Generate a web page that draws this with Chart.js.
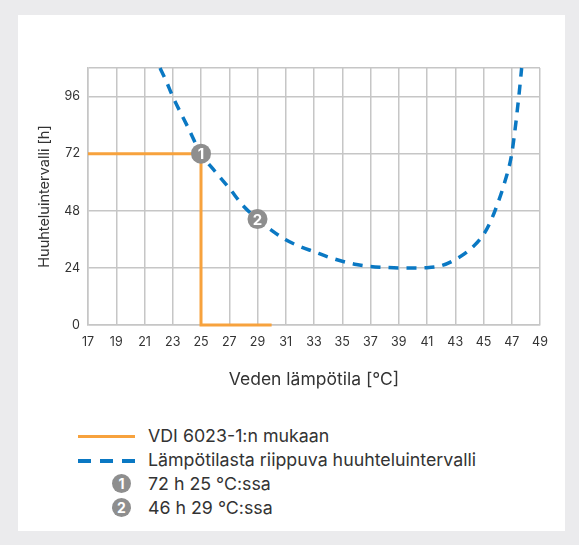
<!DOCTYPE html>
<html>
<head>
<meta charset="utf-8">
<script src="https://cdn.jsdelivr.net/npm/chart.js@4"></script>
<style>
  body { margin: 0; background: #ebebed; width: 579px; height: 545px; overflow: hidden; font-family: Inter, "Noto Sans", sans-serif; }
  #panel { position: absolute; left: 18px; top: 15px; width: 547px; height: 516px; background: #fff; }
  #chartBox { position: absolute; left: 0; top: 0; width: 547px; height: 380px; }
  .legRow { position: absolute; left: 0; height: 24px; line-height: 24px; font-size: 17.8px; color: #333; }
  .legText { position: absolute; left: 130px; white-space: nowrap; }
  .legLine { position: absolute; left: 60px; width: 57px; top: 11px; height: 3px; background: #f7a23d; }
  .legDash { position: absolute; left: 60px; width: 57px; top: 11px; height: 3.5px; background: repeating-linear-gradient(to right, #0a78c3 0 13px, transparent 13px 22px); }
  .legCircle { position: absolute; left: 94px; top: 2px; width: 19px; height: 19px; border-radius: 50%; background: #8e8e8e; color: #fff; font-weight: bold; font-size: 14px; line-height: 19px; text-align: center; }
</style>
</head>
<body>
<div id="panel">
  <div id="chartBox"><canvas id="myChart"></canvas></div>
  <div class="legRow" style="top:409px;"><div class="legLine"></div><span class="legText">VDI 6023-1:n mukaan</span></div>
  <div class="legRow" style="top:433px;"><div class="legDash"></div><span class="legText">Lämpötilasta riippuva huuhteluintervalli</span></div>
  <div class="legRow" style="top:457px;"><div class="legCircle">1</div><span class="legText">72 h 25 °C:ssa</span></div>
  <div class="legRow" style="top:481px;"><div class="legCircle">2</div><span class="legText">46 h 29 °C:ssa</span></div>
</div>
<script>
//------------------data---------------------
const xTicks = [17, 19, 21, 23, 25, 27, 29, 31, 33, 35, 37, 39, 41, 43, 45, 47, 49];
const yTicks = [0, 24, 48, 72, 96, 108];

// VDI 6023-1 line
const vdiX = [17, 25, 25, 30];
const vdiY = [72, 72, 0, 0];

// temperature dependent flushing interval
const curveX = [22.1, 22.5, 23, 24, 25, 26, 27, 28, 29, 30, 31, 32, 33, 34, 35, 36, 37, 38, 39, 40, 41, 42, 43, 44, 45, 45.5, 46, 46.5, 47, 47.5, 47.7];
const curveY = [108, 103, 96, 84, 72, 64.5, 57.5, 50, 44.5, 39.8, 35.8, 33, 30.8, 28.6, 26.8, 25.4, 24.6, 24.2, 24, 24, 24.1, 24.9, 27.5, 31.5, 38, 43.5, 51, 60, 72, 96, 108];

// numbered markers
const markerX = [25, 29];
const markerY = [72, 44.5];
const markerLabels = ['1', '2'];

function toPoints(xs, ys) {
  return xs.map((x, i) => ({x: x, y: ys[i]}));
}

//------------------marker numbers---------------------
const markerNumbers = {
  id: 'markerNumbers',
  afterDatasetsDraw(chart) {
    const meta = chart.getDatasetMeta(0);
    const ctx = chart.ctx;
    ctx.save();
    ctx.fillStyle = '#ffffff';
    ctx.font = 'bold 15px Inter, sans-serif';
    ctx.textAlign = 'center';
    ctx.textBaseline = 'middle';
    meta.data.forEach((pt, i) => {
      ctx.fillText(markerLabels[i], pt.x, pt.y + 1);
    });
    ctx.restore();
  }
};

const gridColor = '#c6c6c6';

new Chart(document.getElementById('myChart').getContext('2d'), {
  type: 'scatter',
  data: {
    datasets: [{
      data: toPoints(markerX, markerY),
      pointRadius: 10,
      pointHoverRadius: 10,
      backgroundColor: '#8e8e8e',
      borderWidth: 0,
      order: 0
    }, {
      data: toPoints(vdiX, vdiY),
      showLine: true,
      borderColor: '#f7a23d',
      borderWidth: 3,
      pointRadius: 0,
      tension: 0,
      clip: 4,
      order: 2
    }, {
      data: toPoints(curveX, curveY),
      showLine: true,
      borderColor: '#0a78c3',
      borderWidth: 3.5,
      borderDash: [10, 8],
      pointRadius: 0,
      cubicInterpolationMode: 'monotone',
      clip: 4,
      order: 1
    }]
  },
  options: {
    responsive: true,
    maintainAspectRatio: false,
    animation: false,
    layout: { padding: { top: 53, right: 25, left: 0, bottom: 0 } },
    plugins: { legend: { display: false }, tooltip: { enabled: false } },
    scales: {
      x: {
        type: 'linear',
        min: 17,
        max: 49,
        afterBuildTicks: (axis) => { axis.ticks = xTicks.map(v => ({value: v})); },
        afterFit: (axis) => { axis.height = 70; },
        grid: { color: gridColor, lineWidth: 1.5, drawTicks: false },
        border: { color: gridColor, width: 1.5 },
        ticks: { padding: 10, color: '#333', font: { family: 'Inter', size: 12.5 }, maxRotation: 0, autoSkip: false },
        title: { display: true, text: 'Veden lämpötila [°C]', color: '#333', font: { family: 'Inter', size: 17.5 }, padding: { top: 0, bottom: 5 } }
      },
      y: {
        min: 0,
        max: 108,
        afterBuildTicks: (axis) => { axis.ticks = yTicks.map(v => ({value: v})); },
        afterFit: (axis) => { axis.width = 70; },
        grid: { color: gridColor, lineWidth: 1.5, drawTicks: false },
        border: { color: gridColor, width: 1.5 },
        ticks: { padding: 8, color: '#333', font: { family: 'Inter', size: 12.5 }, callback: (v) => (v === 108 ? '' : v) },
        title: { display: true, text: 'Huuhteluintervalli [h]', color: '#333', font: { family: 'Inter', size: 14.5 }, padding: { top: 18, bottom: 0 } }
      }
    }
  },
  plugins: [markerNumbers]
});
</script>
</body>
</html>
